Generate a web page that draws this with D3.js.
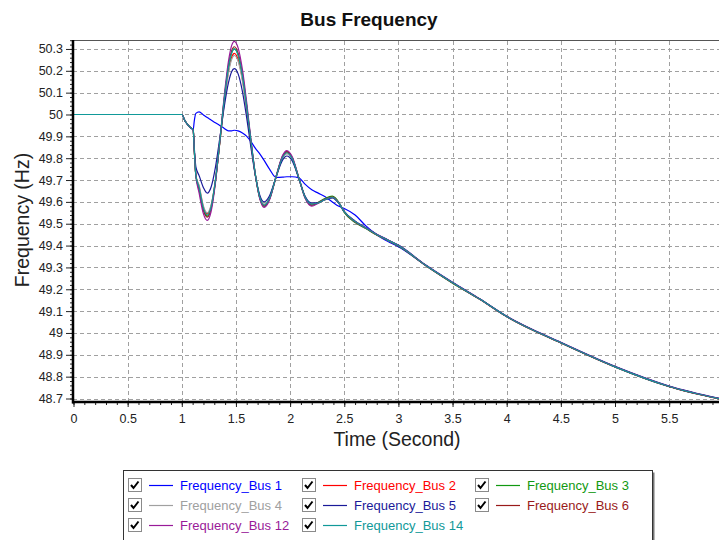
<!DOCTYPE html>
<html><head><meta charset="utf-8">
<script src="https://cdn.jsdelivr.net/npm/d3@7"></script>
<style>
body{margin:0;background:#fff;}
svg{display:block;font-family:Arial,"Liberation Sans",sans-serif;}
</style></head><body>
<svg id="c" width="719" height="540"></svg>
<script>
const times = [0, 1.0, 1.03, 1.08, 1.105, 1.115, 1.13, 1.16, 1.20, 1.235,
  1.27, 1.31, 1.35, 1.39, 1.43, 1.46, 1.485,
  1.52, 1.56, 1.60, 1.64, 1.68, 1.72, 1.76,
  1.81, 1.87, 1.93, 1.97,
  2.02, 2.08, 2.14, 2.20,
  2.26, 2.32, 2.39, 2.45, 2.50,
  2.60, 2.70, 2.80, 2.90, 3.00, 3.25, 3.50, 3.75, 4.00, 4.50, 5.00, 5.50, 6.00];

const bus1 = [50, 50, 49.97, 49.94, 49.93, 49.97, 50.005, 50.012, 49.998, 49.986,
  49.975, 49.962, 49.95, 49.937, 49.925, 49.925, 49.928,
  49.925, 49.915, 49.90, 49.875, 49.845, 49.82, 49.79,
  49.75, 49.712, 49.713, 49.715,
  49.715, 49.71, 49.68, 49.655,
  49.64, 49.625, 49.60, 49.58, 49.57,
  49.54, 49.49, 49.45, 49.42, 49.395, 49.31, 49.23, 49.155, 49.075, 48.955, 48.845, 48.755, 48.695];
const bus2 = [50, 50, 49.97, 49.94, 49.93, 49.84, 49.72, 49.67, 49.575, 49.545,
  49.58, 49.696, 49.867, 50.048, 50.195, 50.262, 50.28,
  50.252, 50.161, 50.021, 49.863, 49.72, 49.621, 49.585,
  49.617, 49.714, 49.803, 49.825,
  49.798, 49.71, 49.62, 49.59,
  49.595, 49.61, 49.62, 49.595, 49.555,
  49.51, 49.48, 49.45, 49.425, 49.40, 49.31, 49.23, 49.155, 49.075, 48.955, 48.845, 48.755, 48.695];
const bus3 = [50, 50, 49.97, 49.94, 49.93, 49.84, 49.72, 49.66, 49.565, 49.535,
  49.572, 49.693, 49.870, 50.058, 50.212, 50.281, 50.30,
  50.272, 50.177, 50.031, 49.868, 49.72, 49.617, 49.58,
  49.613, 49.714, 49.808, 49.83,
  49.80, 49.71, 49.618, 49.585,
  49.598, 49.615, 49.626, 49.598, 49.552,
  49.505, 49.478, 49.448, 49.425, 49.398, 49.31, 49.228, 49.155, 49.075, 48.955, 48.845, 48.755, 48.695];
const bus4 = [50, 50, 49.97, 49.94, 49.93, 49.84, 49.72, 49.675, 49.58, 49.55,
  49.585, 49.698, 49.865, 50.042, 50.187, 50.252, 50.27,
  50.243, 50.153, 50.016, 49.862, 49.722, 49.625, 49.59,
  49.620, 49.714, 49.799, 49.82,
  49.794, 49.708, 49.622, 49.59,
  49.595, 49.61, 49.62, 49.595, 49.555,
  49.51, 49.48, 49.45, 49.425, 49.40, 49.31, 49.23, 49.155, 49.075, 48.955, 48.845, 48.755, 48.695];
const bus5 = [50, 50, 49.97, 49.94, 49.93, 49.85, 49.76, 49.72, 49.665, 49.64,
  49.667, 49.757, 49.889, 50.030, 50.144, 50.196, 50.21,
  50.186, 50.105, 49.982, 49.844, 49.718, 49.631, 49.60,
  49.628, 49.713, 49.791, 49.81,
  49.787, 49.707, 49.625, 49.595,
  49.597, 49.61, 49.618, 49.593, 49.555,
  49.512, 49.482, 49.452, 49.427, 49.402, 49.312, 49.232, 49.157, 49.077, 48.957, 48.847, 48.757, 48.697];
const bus6 = [50, 50, 49.97, 49.94, 49.93, 49.84, 49.72, 49.655, 49.56, 49.53,
  49.567, 49.691, 49.871, 50.064, 50.220, 50.291, 50.31,
  50.281, 50.185, 50.038, 49.872, 49.722, 49.618, 49.58,
  49.613, 49.714, 49.808, 49.83,
  49.80, 49.71, 49.618, 49.585,
  49.596, 49.612, 49.622, 49.596, 49.554,
  49.508, 49.479, 49.449, 49.424, 49.399, 49.309, 49.229, 49.154, 49.074, 48.954, 48.844, 48.754, 48.694];
const bus12 = [50, 50, 49.97, 49.94, 49.93, 49.84, 49.72, 49.64, 49.545, 49.515,
  49.554, 49.684, 49.874, 50.076, 50.241, 50.315, 50.335,
  50.305, 50.205, 50.052, 49.879, 49.722, 49.614, 49.575,
  49.609, 49.715, 49.812, 49.835,
  49.806, 49.712, 49.615, 49.58,
  49.594, 49.611, 49.621, 49.596, 49.556,
  49.511, 49.481, 49.451, 49.426, 49.401, 49.311, 49.231, 49.156, 49.076, 48.956, 48.846, 48.756, 48.696];
const bus14 = [50, 50, 49.97, 49.94, 49.93, 49.84, 49.72, 49.665, 49.57, 49.54,
  49.576, 49.697, 49.873, 50.060, 50.213, 50.281, 50.30,
  50.272, 50.177, 50.033, 49.871, 49.724, 49.622, 49.585,
  49.617, 49.714, 49.803, 49.825,
  49.798, 49.71, 49.62, 49.59,
  49.595, 49.61, 49.62, 49.595, 49.555,
  49.51, 49.48, 49.45, 49.425, 49.40, 49.31, 49.23, 49.155, 49.075, 48.955, 48.845, 48.755, 48.695];

const seriesNames = ["Frequency_Bus 1", "Frequency_Bus 2", "Frequency_Bus 3", "Frequency_Bus 4",
  "Frequency_Bus 5", "Frequency_Bus 6", "Frequency_Bus 12", "Frequency_Bus 14"];
const seriesValues = [bus1, bus2, bus3, bus4, bus5, bus6, bus12, bus14];
const seriesColors = ["#0000ff", "#ff0000", "#119911", "#a0a0a0", "#1a1a99", "#991a1a", "#991a99", "#119999"];

const xTicks = [0, 0.5, 1, 1.5, 2, 2.5, 3, 3.5, 4, 4.5, 5, 5.5];
const yTicks = [48.7, 48.8, 48.9, 49, 49.1, 49.2, 49.3, 49.4, 49.5, 49.6, 49.7, 49.8, 49.9, 50, 50.1, 50.2, 50.3];

const svg = d3.select("#c");
const x = d3.scaleLinear().domain([0, 6]).range([73.5, 723.3]);
const y = d3.scaleLinear().domain([48.684, 50.341]).range([402, 40]);
const fmt = d3.format("~g");

// title
svg.append("text").attr("x", 369).attr("y", 26).attr("text-anchor", "middle")
  .attr("font-size", 19).attr("font-weight", "bold").attr("fill", "#111").text("Bus Frequency");

// grid
const grid = svg.append("g").attr("stroke", "#a0a0a0").attr("stroke-dasharray", "4,3").attr("stroke-width", 1);
grid.selectAll("line.h").data(yTicks).join("line").attr("class", "h")
  .attr("x1", 73).attr("x2", 719)
  .attr("y1", d => Math.round(y(d)) + 0.5).attr("y2", d => Math.round(y(d)) + 0.5);
grid.selectAll("line.v").data(xTicks.slice(1)).join("line").attr("class", "v")
  .attr("y1", 41).attr("y2", 402)
  .attr("x1", d => Math.round(x(d)) + 0.5).attr("x2", d => Math.round(x(d)) + 0.5);

// top border
svg.append("line").attr("x1", 72).attr("x2", 719).attr("y1", 40.5).attr("y2", 40.5)
  .attr("stroke", "#555").attr("stroke-width", 1);

// lines
svg.append("clipPath").attr("id", "clip").append("rect")
  .attr("x", 74).attr("y", 40).attr("width", 650).attr("height", 362);
const line = d3.line().x(d => x(d[0])).y(d => y(d[1])).curve(d3.curveMonotoneX);
svg.append("g").attr("clip-path", "url(#clip)")
  .selectAll("path").data(seriesValues).join("path")
  .attr("fill", "none").attr("stroke", (d, i) => seriesColors[i]).attr("stroke-width", 1.2)
  .attr("d", vals => line(times.map((t, i) => [t, vals[i]])));

// axes
const yMinor = d3.range(48.70, 50.341, 0.02);
const xMinor = d3.range(0, 6.0001, 0.1);
const yAxis = svg.append("g").attr("transform", "translate(73,0)")
  .call(d3.axisLeft(y).tickValues(yTicks).tickFormat(fmt).tickSize(7).tickPadding(3));
const yAxisMinor = svg.append("g").attr("transform", "translate(73,0)")
  .call(d3.axisLeft(y).tickValues(yMinor).tickFormat("").tickSize(3));
const xAxis = svg.append("g").attr("transform", "translate(0,402)")
  .call(d3.axisBottom(x).tickValues(xTicks).tickFormat(fmt).tickSize(5).tickPadding(7));
const xAxisMinor = svg.append("g").attr("transform", "translate(0,402)")
  .call(d3.axisBottom(x).tickValues(xMinor).tickFormat("").tickSize(3));
[yAxis, yAxisMinor, xAxis, xAxisMinor].forEach(g => {
  g.select(".domain").remove();
  g.selectAll(".tick line").attr("stroke", "#222");
  g.selectAll("text").attr("font-size", 12.5).attr("fill", "#222").attr("font-family", "Arial, 'Liberation Sans', sans-serif");
});
svg.append("line").attr("x1", 73).attr("x2", 73).attr("y1", 40).attr("y2", 403.5)
  .attr("stroke", "#000").attr("stroke-width", 2.5);
svg.append("line").attr("x1", 72).attr("x2", 719).attr("y1", 402).attr("y2", 402)
  .attr("stroke", "#000").attr("stroke-width", 2.5);

// axis titles
svg.append("text").attr("x", 397).attr("y", 446).attr("text-anchor", "middle")
  .attr("font-size", 19.5).attr("fill", "#222").text("Time (Second)");
svg.append("text").attr("transform", "translate(29,220) rotate(-90)").attr("text-anchor", "middle")
  .attr("font-size", 19.5).attr("fill", "#222").text("Frequency (Hz)");

// legend
const lg = svg.append("g");
lg.append("rect").attr("x", 125.5).attr("y", 472.5).attr("width", 529).attr("height", 80)
  .attr("fill", "#777");
lg.append("rect").attr("x", 123.5).attr("y", 470.5).attr("width", 529).attr("height", 80)
  .attr("fill", "#fff").attr("stroke", "#333").attr("stroke-width", 1);
const cols = [128, 302, 475];
const rows = [485, 505, 525];
const items = lg.selectAll("g.item").data(seriesNames).join("g").attr("class", "item")
  .attr("transform", (d, i) => `translate(${cols[i % 3]},${rows[Math.floor(i / 3)]})`);
items.append("rect").attr("x", 0.5).attr("y", -6.5).attr("width", 13).attr("height", 13)
  .attr("fill", "#fff").attr("stroke", "#8a8a8a");
items.append("path").attr("d", "M3,0 L5.5,3 L10.5,-3.5").attr("fill", "none")
  .attr("stroke", "#000").attr("stroke-width", 2);
items.append("line").attr("x1", 21).attr("x2", 45).attr("y1", 0.5).attr("y2", 0.5)
  .attr("stroke", (d, i) => seriesColors[i]).attr("stroke-width", 1.2);
items.append("text").attr("x", 52).attr("y", 4.5).attr("font-size", 13)
  .attr("fill", (d, i) => seriesColors[i]).text(d => d);
</script>
</body></html>
